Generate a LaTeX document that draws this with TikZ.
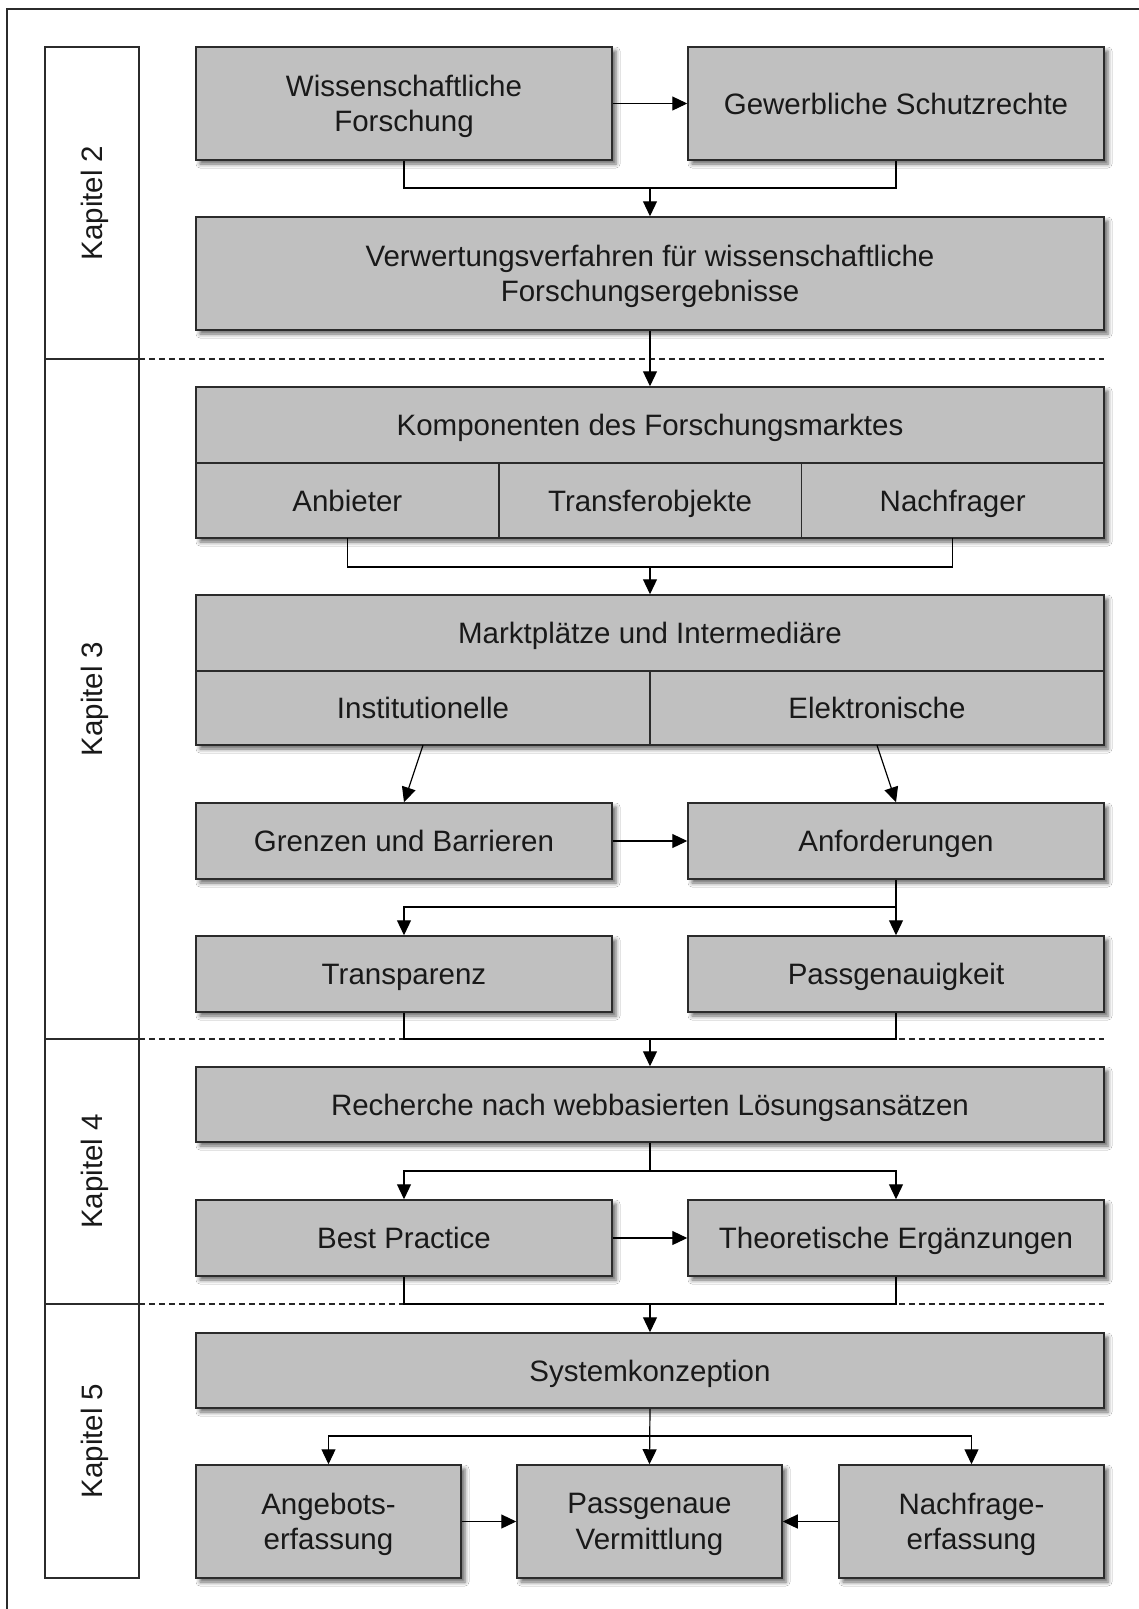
\documentclass[tikz,border=0pt]{standalone}
\usepackage{fontspec}
\setmainfont{Liberation Sans}
\usetikzlibrary{arrows.meta,shadows.blur}

\definecolor{boxfill}{HTML}{C0C0C0}
\definecolor{boxline}{HTML}{2B2B2B}

\begin{document}
\begin{tikzpicture}[x=1pt,y=-1pt,
  every node/.style={font=\fontsize{29.5}{35.5}\selectfont, text=black!90, text depth=0pt},
  box/.style={draw=boxline, line width=1.5pt, fill=boxfill, inner sep=0pt, align=center,
    blur shadow={shadow xshift=4pt, shadow yshift=-4pt, shadow blur radius=4pt, shadow opacity=60}},
  twoline/.style={text height=58pt},
  cell/.style={inner sep=0pt, align=center},
  chap/.style={draw=boxline, line width=1.5pt, fill=white, rotate=90, inner sep=0pt, minimum height=94},
  divider/.style={draw=boxline, line width=1.5pt},
  link/.style={draw=black, line width=1.2pt},
  arr/.style={link, -{Triangle[length=15pt,width=14pt]}},
  sep/.style={draw=black!85, line width=1.2pt, dash pattern=on 6pt off 4pt}
]
% page
\fill[white] (0,0) rectangle (1139,1609);
\useasboundingbox (0,0) rectangle (1139,1609);
\draw[boxline, line width=1.5pt] (7,1609) -- (7,9) -- (1139,9);

% chapter column
\node[chap, minimum width=312] (k2) at (92,203) {Kapitel 2};
\node[chap, minimum width=680] (k3) at (92,699) {Kapitel 3};
\node[chap, minimum width=265] (k4) at (92,1171.5) {Kapitel 4};
\node[chap, minimum width=274] (k5) at (92,1441) {Kapitel 5};

% chapter separators
\coordinate (s1a) at (139,359);  \coordinate (s1b) at (1104,359);
\coordinate (s2a) at (139,1039); \coordinate (s2b) at (1104,1039);
\coordinate (s3a) at (139,1304); \coordinate (s3b) at (1104,1304);
\draw[sep] (s1a) -- (s1b);
\draw[sep] (s2a) -- (s2b);
\draw[sep] (s3a) -- (s3b);

% Kapitel 2
\node[box, minimum width=416, minimum height=113] (wf) at (404,103.5) {Wissenschaftliche\\Forschung};
\node[box, minimum width=416, minimum height=113] (gs) at (896,103.5) {Gewerbliche Schutzrechte};
\node[box, minimum width=908, minimum height=113] (vv) at (650,273.5) {Verwertungsverfahren für wissenschaftliche\\Forschungsergebnisse};

% Kapitel 3: Komponenten
\node[box, minimum width=908, minimum height=151] (km) at (650,462.5) {};
\node[cell, minimum width=908, minimum height=76] (kh) at (650,425) {Komponenten des Forschungsmarktes};
\node[cell, minimum width=302.67, minimum height=75] (anb) at (347.33,500.5) {Anbieter};
\node[cell, minimum width=302.67, minimum height=75] (tro) at (650,500.5) {Transferobjekte};
\node[cell, minimum width=302.67, minimum height=75] (nfr) at (952.67,500.5) {Nachfrager};
\draw[divider] (kh.south west) -- (kh.south east);
\draw[divider] (anb.north east) -- (anb.south east);
\draw[divider] (tro.north east) -- (tro.south east);

% Kapitel 3: Marktplaetze
\node[box, minimum width=908, minimum height=150] (mp) at (650,670) {};
\node[cell, minimum width=908, minimum height=76] (mh) at (650,633) {Marktplätze und Intermediäre};
\node[cell, minimum width=454, minimum height=74] (inst) at (423,708) {Institutionelle};
\node[cell, minimum width=454, minimum height=74] (elek) at (877,708) {Elektronische};
\draw[divider] (mh.south west) -- (mh.south east);
\draw[divider] (inst.north east) -- (inst.south east);

\node[box, minimum width=416, minimum height=76] (gb) at (404,841) {Grenzen und Barrieren};
\node[box, minimum width=416, minimum height=76] (anf) at (896,841) {Anforderungen};
\node[box, minimum width=416, minimum height=76] (tr) at (404,974) {Transparenz};
\node[box, minimum width=416, minimum height=76] (pg) at (896,974) {Passgenauigkeit};

% Kapitel 4
\node[box, minimum width=908, minimum height=75] (rs) at (650,1104.5) {Recherche nach webbasierten Lösungsansätzen};
\node[box, minimum width=416, minimum height=76] (bp) at (404,1238) {Best Practice};
\node[box, minimum width=416, minimum height=76] (te) at (896,1238) {Theoretische Ergänzungen};

% Kapitel 5
\node[box, minimum width=908, minimum height=75] (sk) at (650,1370.5) {Systemkonzeption};
\node[box, minimum width=265, minimum height=113] (ae) at (328.5,1521.5) {Angebots-\\erfassung};
\node[box, minimum width=265, minimum height=113] (pv) at (649.5,1521.5) {Passgenaue\\Vermittlung};
\node[box, minimum width=265, minimum height=113] (ne) at (971.5,1521.5) {Nachfrage-\\erfassung};

% junction points
\coordinate (j1) at (650,188);
\coordinate (j2) at (650,567);
\coordinate (j3) at (896,907);
\coordinate (j4) at (650,1039);
\coordinate (j5) at (650,1171);
\coordinate (j6) at (650,1304);
\coordinate (j7) at (650,1436);

% connectors
\draw[arr] (wf.east) -- (gs.west);
\draw[link] (wf.south) |- (j1) -| (gs.south);
\draw[arr] (j1) -- (vv.north);
\draw[arr] (vv.south) -- (km.north);

\draw[link] (anb.south) |- (j2) -| (nfr.south);
\draw[arr] (j2) -- (mp.north);

\draw[arr] (inst.south) -- (gb.north);
\draw[arr] (elek.south) -- (anf.north);
\draw[arr] (gb.east) -- (anf.west);

\draw[arr] (anf.south) -- (pg.north);
\draw[arr] (j3) -| (tr.north);

\draw[link] (tr.south) |- (j4) -| (pg.south);
\draw[arr] (j4) -- (rs.north);

\draw[link] (rs.south) -- (j5);
\draw[arr] (j5) -| (bp.north);
\draw[arr] (j5) -| (te.north);
\draw[arr] (bp.east) -- (te.west);

\draw[link] (bp.south) |- (j6) -| (te.south);
\draw[arr] (j6) -- (sk.north);

\draw[arr] (sk.south) -- (pv.north);
\draw[arr] (j7) -| (ae.north);
\draw[arr] (j7) -| (ne.north);
\draw[arr] (ae.east) -- (pv.west);
\draw[arr] (ne.west) -- (pv.east);
\end{tikzpicture}
\end{document}
